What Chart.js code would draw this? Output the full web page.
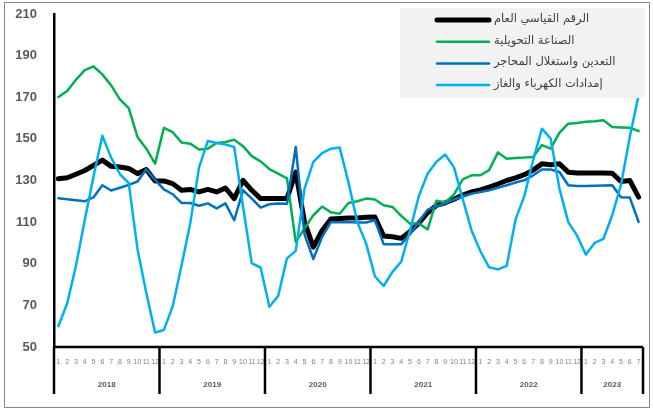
<!DOCTYPE html>
<html>
<head>
<meta charset="utf-8">
<script src="https://cdn.jsdelivr.net/npm/chart.js@4.4.1/dist/chart.umd.min.js"></script>
<style>
  html, body { margin: 0; padding: 0; background: #fff; }
  #wrap { position: relative; width: 653px; height: 411px; }
  #frame { position: absolute; left: 4px; top: 2px; width: 644px; height: 404px; border: 1.5px solid #8a8a8a; box-sizing: content-box; pointer-events: none; }
  canvas { position: absolute; left: 0; top: 0; }
</style>
</head>
<body>
<div id="wrap">
  <canvas id="c" width="653" height="411"></canvas>
  <div id="frame"></div>
</div>
<script>
// ---- Data ----
const years = ['2018', '2019', '2020', '2021', '2022', '2023'];
const monthsInYear = [12, 12, 12, 12, 12, 7];
const seriesNames = ['الرقم القياسي العام', 'الصناعة التحويلية', 'التعدين واستغلال المحاجر', 'إمدادات الكهرباء والغاز'];

const generalIndex = [130.8,131.3,133,134.8,137.3,139.8,136.8,136.5,135.8,133.3,135.3,129.8,
  129.8,128.5,125.3,125.7,124.5,125.7,124.5,126.4,121.3,130.1,125.3,121.3,
  121.3,121.3,121.3,134,110,98,106,111.5,111.8,112,112,112.3,
  112.5,103.3,103,102.2,105.5,109.5,114.5,118,119.3,121,123,124.5,
  125.5,126.8,128.3,130,131.3,132.8,135,138,137.6,138,134,133.6,
  133.6,133.6,133.6,133.5,129.5,130,122];
const manufacturing = [170.1,173,178.4,183,184.8,181,175.7,169,164.8,150.9,145.3,138.1,
  155.3,153.2,148.3,147.7,144.9,145.3,148,148.5,149.6,146.5,141.7,139.2,
  135.5,133.3,131,100.5,107,113.3,117.5,114.7,114,119.2,120,121.3,
  120.9,118.1,117.3,113,109.3,109.3,106.5,120.3,119.5,123.3,130.5,132.5,
  132.5,135,143.5,140.5,140.8,141,141.3,147,145.3,153,157.3,157.6,
  158.2,158.5,158.9,155.7,155.5,155.3,153.8];
const mining = [121.5,121,120.5,120,122,127.7,125.2,126.5,127.9,129.5,135.4,130.3,
  125.7,123.4,119.2,119.2,117.9,119,116.6,119,110.9,125.3,121.3,117,
  118.6,119,118.8,146.1,104,92.3,102.9,110,110,110,109.8,109.8,
  110.9,99.4,99.4,99.4,104.2,110.1,116,117.5,119,120.9,122.3,123.7,
  124.5,125.3,126.5,127.7,129,130.1,132.5,135.3,135.3,134.1,127.7,127.4,
  127.4,127.5,127.6,127.7,122,121.8,110.1];
const electricity = [60,71,89,111,132,151.5,141,133,128.8,97,76,57,
  58.2,69.5,89,109.5,136.3,149,148,147.3,146.1,117.5,90.2,88.2,
  69.3,74.5,92.6,96.2,126.1,138.9,143.2,145.3,145.8,129,110,99.8,
  84,79.3,86.1,91,106.1,122.5,133.3,139,142.5,136.3,121,106,
  96,88.3,87.3,89,111.3,122.5,139.7,154.9,150.1,126,110,103.5,
  94.4,100,102,113.3,128,151,171];
const yMin = 50, yMax = 210, yStep = 20;

// month labels built from the year table
const monthLabels = [];
monthsInYear.forEach(n => { for (let m = 1; m <= n; m++) monthLabels.push(String(m)); });

// ---- Plugins ----
const yearAxisPlugin = {
  id: 'yearAxis',
  afterDraw(chart) {
    const x = chart.scales.x, area = chart.chartArea, ctx = chart.ctx;
    const half = (x.getPixelForValue(1) - x.getPixelForValue(0)) / 2;
    const top = area.bottom, bot = area.bottom + 47;
    ctx.save();
    ctx.strokeStyle = '#000';
    ctx.lineWidth = 2.5;
    ctx.beginPath(); ctx.moveTo(area.left, top); ctx.lineTo(area.right, top); ctx.stroke();
    let idx = 0;
    const bounds = [];
    monthsInYear.forEach((n, k) => {
      const l = x.getPixelForValue(idx) - half;
      const r = x.getPixelForValue(idx + n - 1) + half;
      bounds.push(l); if (k === monthsInYear.length - 1) bounds.push(r);
      ctx.fillStyle = '#595959';
      ctx.font = 'bold 8px "Liberation Sans", Arial, sans-serif';
      ctx.textAlign = 'center'; ctx.textBaseline = 'middle';
      ctx.fillText(years[k], (l + r) / 2, area.bottom + 38);
      idx += n;
    });
    bounds.forEach(b => { ctx.beginPath(); ctx.moveTo(b, top); ctx.lineTo(b, bot); ctx.stroke(); });
    ctx.restore();
  }
};

const legendPlugin = {
  id: 'customLegend',
  afterDraw(chart) {
    const ctx = chart.ctx;
    ctx.save();
    ctx.fillStyle = '#f2f2f2';
    ctx.fillRect(400, 8, 245, 90);
    chart.data.datasets.forEach((ds, i) => {
      const y = 20 + i * 21.7;
      ctx.strokeStyle = ds.borderColor;
      ctx.lineWidth = ds.borderWidth;
      ctx.lineCap = 'round';
      ctx.beginPath(); ctx.moveTo(437, y); ctx.lineTo(489, y); ctx.stroke();
      ctx.fillStyle = '#404040';
      ctx.font = '11.5px "DejaVu Sans", sans-serif';
      ctx.textAlign = 'left'; ctx.textBaseline = 'middle';
      ctx.fillText(ds.label, 494, y - 1);
    });
    ctx.restore();
  }
};

const mk = (label, data, color, width, order) => ({
  label, data, borderColor: color, backgroundColor: color, borderWidth: width,
  pointRadius: 0, tension: 0, fill: false, order, borderJoinStyle: 'round', borderCapStyle: 'round', clip: false
});

new Chart(document.getElementById('c'), {
  type: 'line',
  data: {
    labels: monthLabels,
    datasets: [
      mk(seriesNames[0], generalIndex, '#000000', 5, 4),
      mk(seriesNames[1], manufacturing, '#00B050', 2.5, 3),
      mk(seriesNames[2], mining, '#0070C0', 2.5, 2),
      mk(seriesNames[3], electricity, '#00B0F0', 2.5, 1)
    ]
  },
  options: {
    responsive: false,
    animation: false,
    devicePixelRatio: 1,
    layout: { padding: { top: 14, right: 10, bottom: 0, left: 0 } },
    plugins: { legend: { display: false }, tooltip: { enabled: false } },
    scales: {
      x: {
        type: 'category',
        offset: true,
        grid: { display: false, drawTicks: false },
        border: { display: false },
        ticks: { autoSkip: false, maxRotation: 0, minRotation: 0, padding: 11,
          color: '#7f7f7f', font: { size: 7, family: '"Liberation Sans", Arial, sans-serif' } },
        afterFit(s) { s.height = 64; s.paddingLeft = 0; s.paddingRight = 0; }
      },
      y: {
        min: yMin, max: yMax,
        grid: { display: false, drawTicks: false },
        border: { display: true, color: '#000', width: 2.5 },
        ticks: { stepSize: yStep, padding: 17, color: '#595959',
          font: { size: 13, weight: 'bold', family: '"Liberation Sans", Arial, sans-serif' } },
        afterFit(s) { s.width = 54; s.paddingTop = 0; s.paddingBottom = 0; }
      }
    }
  },
  plugins: [yearAxisPlugin, legendPlugin]
});
</script>
</body>
</html>
